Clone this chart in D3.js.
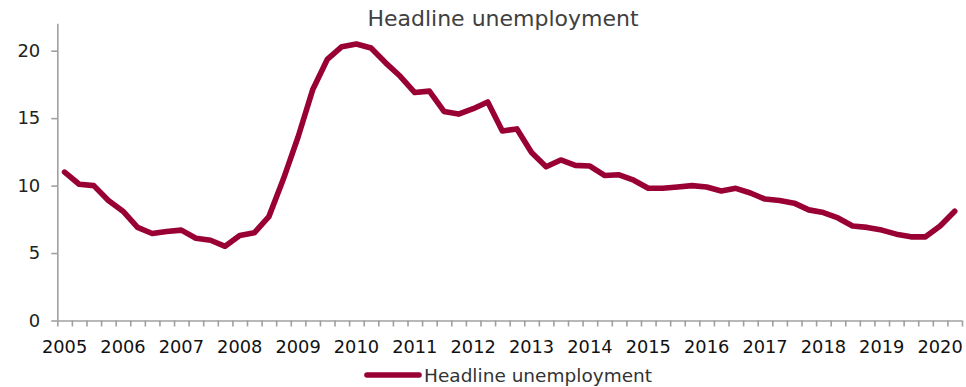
<!DOCTYPE html>
<html>
<head>
<meta charset="utf-8">
<script src="https://cdn.jsdelivr.net/npm/d3@7"></script>
<style>
  html, body { margin: 0; padding: 0; background: #fff; }
  svg { display: block; font-family: "DejaVu Sans", Verdana, sans-serif; }
</style>
</head>
<body>
<svg id="chart" width="966" height="387"></svg>
<script>
const years = ["2005","2006","2007","2008","2009","2010","2011","2012","2013","2014","2015","2016","2017","2018","2019","2020"];
const quarterNames = ["Q1","Q2","Q3","Q4"];
const quarters = [];
years.forEach(y => quarterNames.forEach(q => quarters.push(y + q)));
const categories = quarters.slice(0, 62); // 2005Q1 .. 2020Q2

const unemployment = [
  11.0, 10.1, 10.0, 8.9, 8.1, 6.9, 6.45, 6.6, 6.7, 6.1, 5.95, 5.5,
  6.3, 6.5, 7.7, 10.5, 13.6, 17.1, 19.35, 20.3, 20.5, 20.2, 19.1, 18.1,
  16.9, 17.0, 15.5, 15.3, 15.7, 16.2, 14.05, 14.2, 12.45, 11.4, 11.9, 11.5,
  11.45, 10.75, 10.8, 10.4, 9.8, 9.8, 9.9, 10.0, 9.9, 9.6, 9.8, 9.45,
  9.0, 8.9, 8.7, 8.2, 8.0, 7.6, 7.0, 6.9, 6.7, 6.4, 6.2, 6.2,
  7.0, 8.1
];
const yTicks = [0, 5, 10, 15, 20];
const seriesName = "Headline unemployment";
const chartTitle = "Headline unemployment";

(function () {
const svg = d3.select("#chart");
const plotLeft = 57.3, plotRight = 962, plotTop = 23.7, plotBottom = 320.5;
const lineColor = "#990033";
const axisColor = "#a0a0a0";

const x = d3.scaleBand().domain(categories).range([plotLeft, plotRight]).paddingInner(0).paddingOuter(0);
const xEdges = d3.scaleLinear().domain([0, categories.length]).range([plotLeft, plotRight]);
const y = d3.scaleLinear().domain([0, 22]).range([plotBottom, plotTop]);

// Title
svg.append("text")
  .attr("x", 503).attr("y", 26)
  .attr("text-anchor", "middle")
  .attr("font-size", 22)
  .attr("fill", "#404040")
  .text(chartTitle);

// Y axis
const yAxis = svg.append("g")
  .attr("transform", `translate(${plotLeft},0)`)
  .call(d3.axisLeft(y).tickValues(yTicks).tickSize(6).tickPadding(11).tickFormat(d3.format("d")));
yAxis.select(".domain").attr("stroke", axisColor).attr("stroke-width", 1.6)
  .attr("d", `M0.5,${plotTop}V${plotBottom}`);
yAxis.selectAll(".tick line").attr("stroke", axisColor).attr("stroke-width", 1.6);
yAxis.selectAll(".tick text").attr("font-size", 18).attr("fill", "#222")
  .attr("font-family", '"DejaVu Sans", Verdana, sans-serif');

// X axis: tick marks at category boundaries
const xAxisTicks = svg.append("g")
  .attr("transform", `translate(0,${plotBottom})`)
  .call(d3.axisBottom(xEdges).tickValues(d3.range(0, categories.length + 1)).tickSize(6).tickFormat(""));
xAxisTicks.select(".domain").attr("stroke", axisColor).attr("stroke-width", 1.6)
  .attr("d", `M${plotLeft},0.5H${plotRight}`);
xAxisTicks.selectAll(".tick line").attr("stroke", axisColor).attr("stroke-width", 1.6);

// X axis labels: one per year, on Q1 category
const q1 = categories.filter(c => c.endsWith("Q1"));
const xAxisLabels = svg.append("g")
  .attr("transform", `translate(0,${plotBottom})`)
  .call(d3.axisBottom(x).tickValues(q1).tickSize(0).tickPadding(19.5).tickFormat(d => d.slice(0, 4)));
xAxisLabels.select(".domain").remove();
xAxisLabels.selectAll(".tick text").attr("font-size", 17.8).attr("fill", "#111")
  .attr("font-family", '"DejaVu Sans", Verdana, sans-serif');

// Line
const line = d3.line()
  .x((d, i) => x(categories[i]) + x.bandwidth() / 2)
  .y(d => y(d));
svg.append("path")
  .datum(unemployment)
  .attr("d", line)
  .attr("fill", "none")
  .attr("stroke", lineColor)
  .attr("stroke-width", 5.6)
  .attr("stroke-linejoin", "round")
  .attr("stroke-linecap", "round");

// Legend
const lg = svg.append("g");
lg.append("line")
  .attr("x1", 367).attr("x2", 419).attr("y1", 375).attr("y2", 375)
  .attr("stroke", lineColor).attr("stroke-width", 5.6).attr("stroke-linecap", "round");
lg.append("text")
  .attr("x", 424).attr("y", 381.5)
  .attr("font-size", 18.5)
  .attr("fill", "#333")
  .text(seriesName);
})();
</script>
</body>
</html>
